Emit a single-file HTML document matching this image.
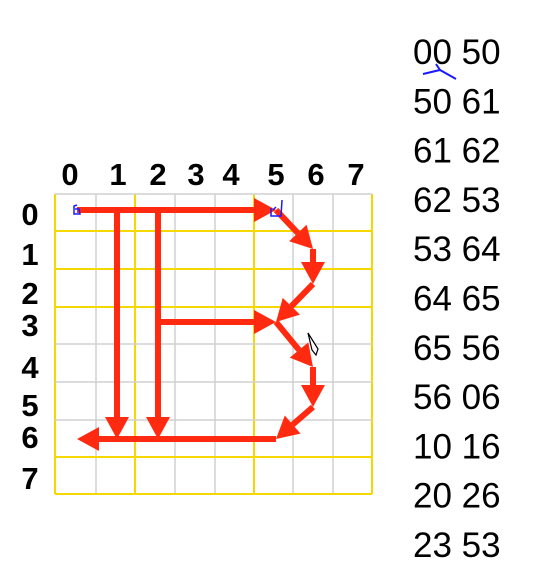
<!DOCTYPE html>
<html><head><meta charset="utf-8"><style>
html,body{margin:0;padding:0;background:#fff;}
svg{display:block;font-family:"Liberation Sans","DejaVu Sans",sans-serif;}
</style></head><body>
<svg id="chart" width="552" height="587" viewBox="0 0 552 587" xmlns="http://www.w3.org/2000/svg">
<g id="grid"></g>
<g id="labels"></g>
<g id="arrows"></g>
<g id="list"></g>
<g><path d="M77 205 L74 206 L74 214 L80 214 L79 209 L75 209" fill="none" stroke="#1a1aff" stroke-width="1.5"/></g>
<g><path d="M282 200 L281 216 L271 216 L271 208 M276 207 L273 210" fill="none" stroke="#1a1aff" stroke-width="1.5"/></g>
<g><path d="M308 333 L318 349 L316 355 L312 350 Z" fill="#fff" stroke="#000" stroke-width="1.2"/></g>
<g><path d="M423 74 L440 70 L456 79 M440 70 L436 64" fill="none" stroke="#1a1aff" stroke-width="2"/></g>
</svg>
<script>
var colLabels = ["0","1","2","3","4","5","6","7"];
var rowLabels = ["0","1","2","3","4","5","6","7"];
var segments = ["00 50","50 61","61 62","62 53","53 64","64 65","65 56","56 06","10 16","20 26","23 53"];
var NS = "http://www.w3.org/2000/svg";
var colX = [77,117,158,196,232,276,313,352];
var rowY = [210,249,284,322,367,407,439,477];
function px(c){ return colX[c]; }
function py(r){ return rowY[r]; }
function mk(tag, attrs, parent){ var e=document.createElementNS(NS,tag); for(var k in attrs) e.setAttribute(k,attrs[k]); parent.appendChild(e); return e; }
var grid=document.getElementById('grid');
var vx=[55,96,135,175,215,254,293,333,372], vyellow=[0,2,5,8];
vx.forEach(function(x,i){
  var l=mk('line',{x1:x,y1:194,x2:x,y2:494,stroke:vyellow.indexOf(i)>=0?'#f5d800':'#d0d0d0','stroke-width':vyellow.indexOf(i)>=0?2:1.5},grid);
  
  
});
var hy=[194,231,269,307,344,382,420,457,494], hyellow=[1,2,3,7,8];
hy.forEach(function(y,i){
  var l=mk('line',{x1:55,y1:y,x2:372,y2:y,stroke:hyellow.indexOf(i)>=0?'#f5d800':'#d0d0d0','stroke-width':hyellow.indexOf(i)>=0?2:1.5},grid);
  
  
});
var lab=document.getElementById('labels');
var topX=[70,118,158,196,231,276,316,356];
colLabels.forEach(function(t,i){
  var e=mk('text',{x:topX[i],y:185,'font-size':31,'font-weight':'bold','text-anchor':'middle'},lab); e.textContent=t;
  
  
});
var leftY=[225,265,304,336,378,416,448,489];
rowLabels.forEach(function(t,i){
  var e=mk('text',{x:30,y:leftY[i],'font-size':31,'font-weight':'bold','text-anchor':'middle'},lab); e.textContent=t;
  
  
});
var arr=document.getElementById('arrows');
segments.forEach(function(s){
  var a=s.split(' ');
  var x1=px(+a[0][0]),y1=py(+a[0][1]),x2=px(+a[1][0]),y2=py(+a[1][1]);
  var dx=x2-x1,dy=y2-y1,L=Math.sqrt(dx*dx+dy*dy),ux=dx/L,uy=dy/L;
  var hl=22,hw=12,bx=x2-ux*hl,by=y2-uy*hl;
  var g=mk('g',{},arr);
  
  
  mk('line',{x1:x1,y1:y1,x2:bx,y2:by,stroke:'#ff2a10','stroke-width':6},g);
  mk('polygon',{points:x2+','+y2+' '+(bx-uy*hw)+','+(by+ux*hw)+' '+(bx+uy*hw)+','+(by-ux*hw),fill:'#ff2a10'},g);
});
var list=document.getElementById('list');
segments.forEach(function(s,i){
  var e=mk('text',{x:413,y:64+49.3*i,'font-size':35},list); e.textContent=s;
  
  
});
</script>
</body></html>
